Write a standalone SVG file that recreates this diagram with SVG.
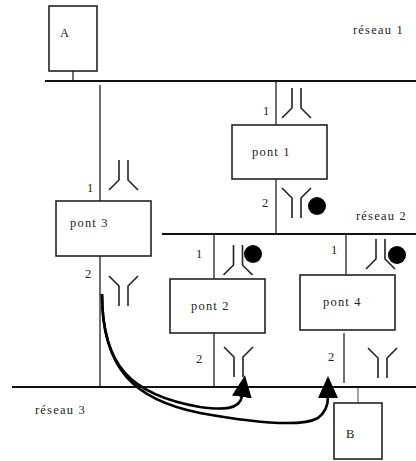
<svg xmlns="http://www.w3.org/2000/svg" width="416" height="461" viewBox="0 0 416 461">
<style>
text{font-family:"Liberation Serif","Times New Roman",serif;font-size:12.5px;letter-spacing:1.2px;fill:#222}
.box{fill:#fff;stroke:#222;stroke-width:1.6}
.net{stroke:#111;stroke-width:2;fill:none}
.wire{stroke:#222;stroke-width:1.3;fill:none}
.sym{stroke:#222;stroke-width:1.6;fill:none}
.dot{fill:#000}
.flow{stroke:#000;stroke-width:2.6;fill:none;marker-end:url(#ah)}
</style>
<defs>
<path id="s1" class="sym" d="M-4.5,0 V20 L-14.5,30 M4.5,0 V20 L14.5,30"/>
<path id="s2" class="sym" d="M-14.5,0 L-4.5,10 V30 M14.5,0 L4.5,10 V30"/>
<marker id="ah" markerUnits="userSpaceOnUse" viewBox="0 0 22 20" markerWidth="22" markerHeight="20" refX="1" refY="10" orient="auto">
<path d="M0,0 L22,10 L0,20 z" fill="#000"/>
</marker>
</defs>
<g id="connectors">
<line class="wire" x1="73" y1="71" x2="73" y2="81"/>
<line class="wire" x1="100" y1="85" x2="100" y2="387"/>
<line class="wire" x1="276" y1="81" x2="276" y2="125"/>
<line class="wire" x1="276" y1="179" x2="276" y2="234"/>
<line class="wire" x1="214" y1="234" x2="214" y2="279"/>
<line class="wire" x1="214" y1="333" x2="214" y2="387"/>
<line class="wire" x1="346" y1="234" x2="346" y2="275"/>
<line class="wire" x1="344" y1="333" x2="344" y2="383"/>
<line x1="358" y1="387" x2="358" y2="403" stroke="#666" stroke-width="1.2"/>
</g>
<g id="reseau1">
<line class="net" x1="45" y1="81" x2="416" y2="81"/>
<text x="353" y="34">réseau 1</text>
</g>
<g id="reseau2">
<line class="net" x1="162" y1="234" x2="416" y2="234"/>
<text x="356" y="220">réseau 2</text>
</g>
<g id="reseau3">
<line class="net" x1="12" y1="387" x2="416" y2="387"/>
<text x="35" y="414">réseau 3</text>
</g>
<g id="A">
<rect class="box" x="49" y="6" width="48" height="65"/>
<text x="60" y="37">A</text>
</g>
<g id="B">
<rect class="box" x="334" y="403" width="48" height="56"/>
<text x="346" y="438">B</text>
</g>
<g id="pont1">
<rect class="box" x="232" y="125" width="95" height="54"/>
<text x="252" y="156">pont 1</text>
<text x="263" y="115">1</text>
<text x="262" y="207">2</text>
<use href="#s1" transform="translate(296.5,88)"/>
<use href="#s2" transform="translate(296.5,188)"/>
<circle class="dot" cx="317" cy="206" r="9"/>
</g>
<g id="pont3">
<rect class="box" x="56" y="201" width="95" height="55"/>
<text x="70" y="227">pont 3</text>
<text x="87" y="192">1</text>
<text x="85" y="278">2</text>
<use href="#s1" transform="translate(123.5,160)"/>
<use href="#s2" transform="translate(123.5,276)"/>
</g>
<g id="pont2">
<rect class="box" x="170" y="279" width="95" height="54"/>
<text x="191" y="310">pont 2</text>
<text x="196" y="258">1</text>
<text x="196" y="363">2</text>
<use href="#s1" transform="translate(238,245)"/>
<use href="#s2" transform="translate(238.5,347)"/>
<circle class="dot" cx="253" cy="254" r="9"/>
</g>
<g id="pont4">
<rect class="box" x="300" y="275" width="95" height="55"/>
<text x="323" y="306">pont 4</text>
<text x="331" y="254">1</text>
<text x="328" y="361">2</text>
<use href="#s1" transform="translate(380.5,239)"/>
<use href="#s2" transform="translate(382.5,348)"/>
<circle class="dot" cx="397" cy="255" r="9"/>
</g>
<g id="flows">
<path class="flow" d="M102,294 C102,365 130,395 200,407 C222,410 240,410 242,396"/>
<path class="flow" d="M102,294 C102,370 135,400 200,413 C250,422 300,428 318,418 C326,412 328,405 328,397"/>
</g>
</svg>
